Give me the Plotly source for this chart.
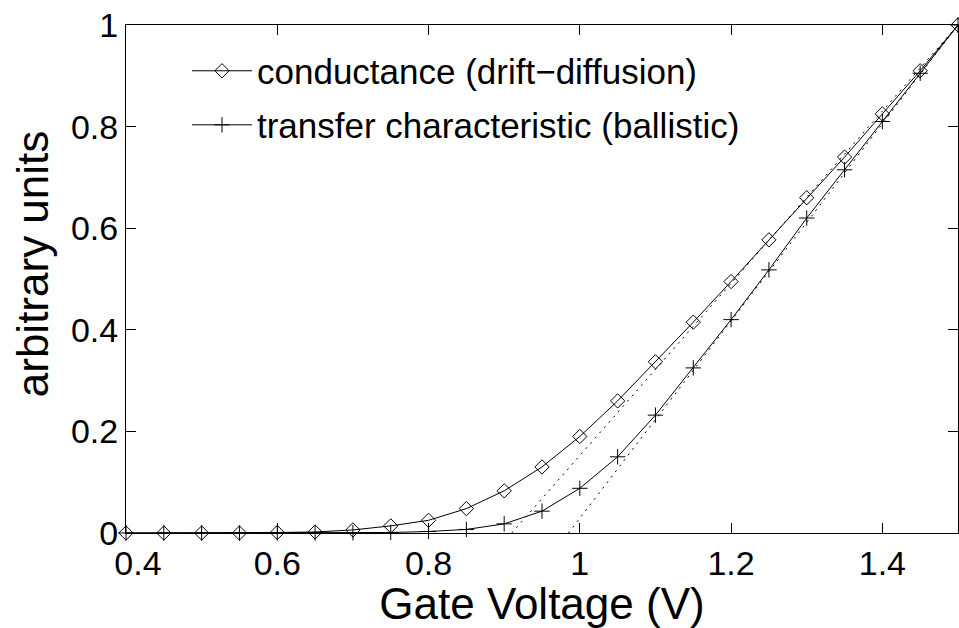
import plotly.graph_objects as go

gate_voltage = [0.40, 0.45, 0.50, 0.55, 0.60, 0.65, 0.70, 0.75, 0.80, 0.85, 0.90, 0.95,
                1.00, 1.05, 1.10, 1.15, 1.20, 1.25, 1.30, 1.35, 1.40, 1.45, 1.50]
conductance = [0.0, 0.0, 0.0, 0.0, 0.001, 0.002, 0.006, 0.014, 0.025, 0.048, 0.083, 0.13,
               0.19, 0.26, 0.337, 0.415, 0.495, 0.577, 0.66, 0.74, 0.825, 0.91, 1.0]
transfer = [0.0, 0.0, 0.0, 0.0, 0.0, 0.0, 0.0005, 0.001, 0.003, 0.007, 0.018, 0.043,
            0.088, 0.15, 0.232, 0.325, 0.42, 0.518, 0.62, 0.715, 0.81, 0.905, 1.0]

tangent_cond_x = [0.91, 1.5]
tangent_cond_y = [0.0, 1.0]
tangent_trans_x = [0.985, 1.5]
tangent_trans_y = [0.0, 1.0]

x_ticks = [0.4, 0.6, 0.8, 1.0, 1.2, 1.4]
x_tick_labels = ["\u2002\u20090.4", "0.6", "0.8", "1", "1.2", "1.4"]
y_ticks = [0, 0.2, 0.4, 0.6, 0.8, 1.0]
y_tick_labels = ["0", "0.2", "0.4", "0.6", "0.8", "1"]

FONT = "Liberation Sans, Arial, Helvetica, sans-serif"

fig = go.Figure()
fig.add_trace(go.Scatter(
    x=tangent_cond_x, y=tangent_cond_y, mode="lines",
    line=dict(color="black", width=1, dash="2px,5px"), showlegend=False, hoverinfo="skip"))
fig.add_trace(go.Scatter(
    x=tangent_trans_x, y=tangent_trans_y, mode="lines",
    line=dict(color="black", width=1, dash="2px,5px"), showlegend=False, hoverinfo="skip"))
fig.add_trace(go.Scatter(
    x=gate_voltage, y=conductance, mode="lines+markers",
    name="conductance (drift\u2212diffusion)", legend="legend",
    line=dict(color="black", width=1), cliponaxis=False,
    marker=dict(symbol="diamond-open", size=11, color="black", line=dict(width=1, color="black"))))
fig.add_trace(go.Scatter(
    x=gate_voltage, y=transfer, mode="lines+markers",
    name="transfer characteristic (ballistic)", legend="legend2",
    line=dict(color="black", width=1), cliponaxis=False,
    marker=dict(symbol="cross-thin-open", size=11, color="black", line=dict(width=1, color="black"))))

axis_common = dict(
    showline=True, linecolor="black", linewidth=1, mirror="ticks",
    ticks="inside", ticklen=10, tickwidth=1, tickcolor="black",
    showgrid=False, zeroline=False, ticklabeloverflow="allow",
    tickfont=dict(family=FONT, size=34, color="black"),
)

legend_common = dict(
    xanchor="left", yanchor="middle", itemwidth=60,
    font=dict(family=FONT, size=35, color="black"),
    bgcolor="rgba(0,0,0,0)", borderwidth=0,
)

fig.update_layout(
    width=959, height=628,
    margin=dict(l=126, r=1, t=25, b=95),
    paper_bgcolor="white", plot_bgcolor="white",
    font=dict(family=FONT, color="black"),
    xaxis=dict(range=[0.4, 1.5], tickvals=x_ticks, ticktext=x_tick_labels,
               ticklabelstandoff=0,
               title=dict(text="Gate Voltage (V)", font=dict(family=FONT, size=44), standoff=0),
               **axis_common),
    yaxis=dict(range=[0, 1], tickvals=y_ticks, ticktext=y_tick_labels, **axis_common),
    legend=dict(x=0.0733, y=0.9094, **legend_common),
    legend2=dict(x=0.0733, y=0.803, **legend_common),
    annotations=[dict(
        text="arbitrary units", textangle=-90, showarrow=False,
        xref="paper", yref="paper", x=-0.113, y=0.531,
        xanchor="center", yanchor="middle",
        font=dict(family=FONT, size=44, color="black"))],
)

fig.write_html("out.html", config={"displayModeBar": False},
               post_script="document.body.style.margin='0';document.body.style.overflow='hidden';")
